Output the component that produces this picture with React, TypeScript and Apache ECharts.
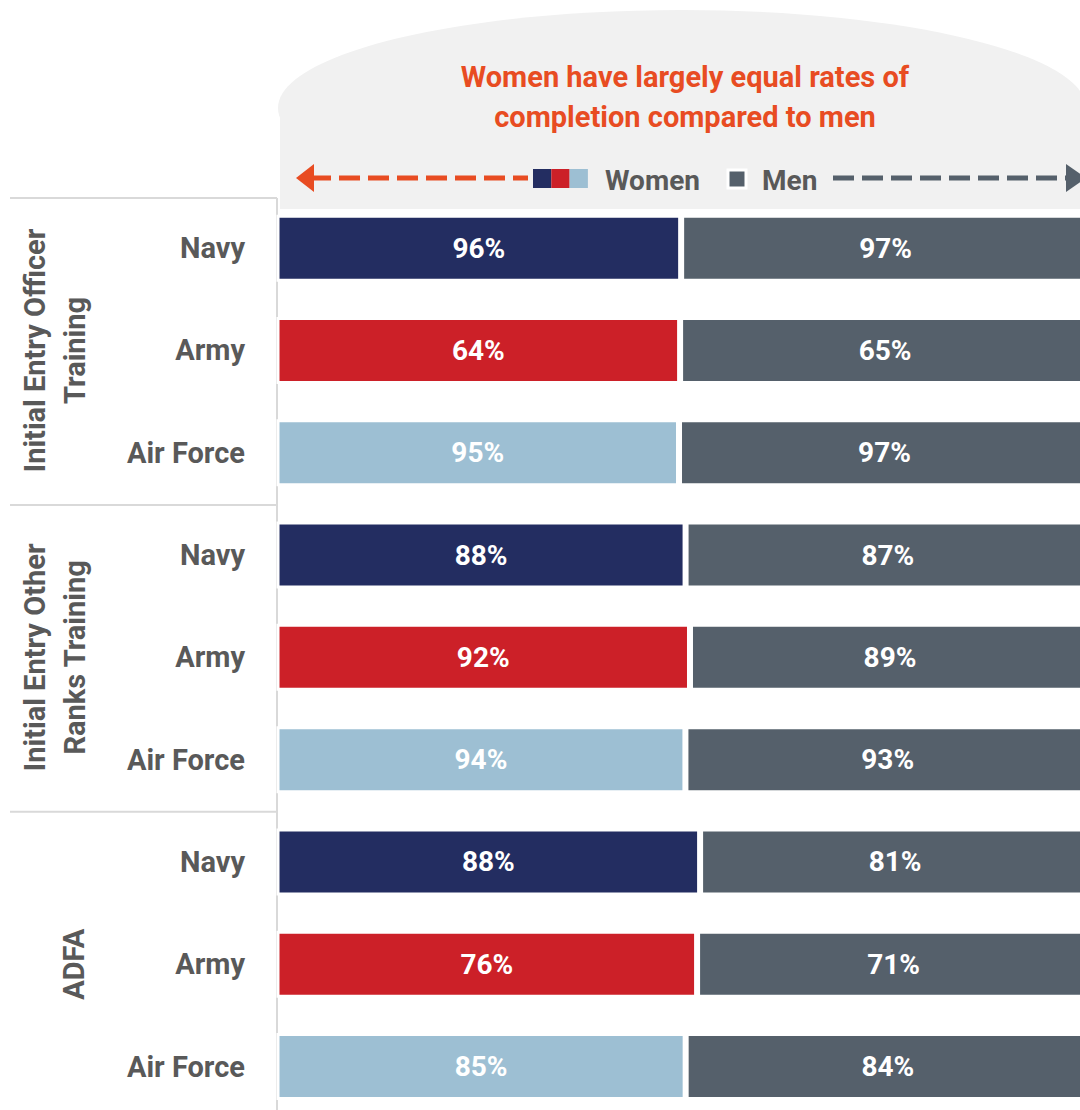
import { useEffect, useRef } from 'react';
import * as echarts from 'echarts';

const services = ['Navy', 'Army', 'Air Force'];
const groups = ['Initial Entry Officer\nTraining', 'Initial Entry Other\nRanks Training', 'ADFA'];
const womenValues = [96, 64, 95, 88, 92, 94, 88, 76, 85];
const menValues = [97, 65, 97, 87, 89, 93, 81, 71, 84];
const womenColors = ['#232d61', '#cc2028', '#9dbfd3'];
const menColor = '#55606b';
const titleLines = ['Women have largely equal rates of', 'completion compared to men'];
const legendNames = ['Women', 'Men'];

const FONT = "Roboto, 'DejaVu Sans Condensed', sans-serif";
const GRAY_TEXT = '#595959';
const LINE = '#d9d9d9';

export default function App() {
  const ref = useRef<HTMLDivElement>(null);
  useEffect(() => {
    if (!ref.current) return;
    const chart = echarts.init(ref.current, null, { renderer: 'svg' });

    const categories: string[] = [];
    groups.forEach((g, gi) => services.forEach((s) => categories.push(gi + '|' + s)));

    const womenData = womenValues.map((w, i) => ({
      value: (w / (w + menValues[i])) * 100,
      itemStyle: { color: womenColors[i % 3] },
    }));
    const menData = menValues.map((m, i) => (m / (m + womenValues[i])) * 100);

    const top = 197;
    const band = 102.3;
    const gridH = band * categories.length;

    const groupLabels = groups.map((g, gi) => {
      const cy = top + band * (gi * 3 + 1.5);
      const single = !g.includes('\n');
      return {
        type: 'text',
        x: single ? 74 : 55,
        y: cy,
        rotation: Math.PI / 2,
        style: {
          text: g,
          fill: GRAY_TEXT,
          font: `bold 29px ${FONT}`,
          textAlign: 'center',
          textVerticalAlign: 'middle',
          lineHeight: 40,
        },
      };
    });

    const sepLines = [0, 3, 6].map((r) => ({
      type: 'line',
      shape: { x1: 10, y1: top + 1 + band * r, x2: 277, y2: top + 1 + band * r },
      style: { stroke: LINE, lineWidth: 2 },
    }));

    const labelStyle = {
      color: '#ffffff',
      fontFamily: FONT,
      fontWeight: 'bold',
      fontSize: 28,
    };

    const option: any = {
      animation: false,
      backgroundColor: '#ffffff',
      grid: { left: 276.5, top, width: 813.5, height: gridH, outerBoundsMode: 'none', containLabel: false },
      xAxis: { type: 'value', min: 0, max: 100, show: false },
      yAxis: {
        type: 'category',
        inverse: true,
        data: categories,
        axisLine: { show: false },
        axisTick: { show: false },
        splitLine: { show: false },
        axisLabel: {
          formatter: (v: string) => v.split('|')[1],
          color: GRAY_TEXT,
          fontFamily: FONT,
          fontWeight: 'bold',
          fontSize: 29,
          margin: 31.5,
        },
      },
      series: [
        {
          name: legendNames[0],
          type: 'bar',
          stack: 'total',
          barWidth: 67,
          data: womenData,
          itemStyle: { borderColor: '#ffffff', borderWidth: 3 },
          label: {
            show: true,
            position: 'inside',
            formatter: (p: any) => womenValues[p.dataIndex] + '%',
            ...labelStyle,
          },
        },
        {
          name: legendNames[1],
          type: 'bar',
          stack: 'total',
          barWidth: 67,
          data: menData,
          itemStyle: { color: menColor, borderColor: '#ffffff', borderWidth: 3 },
          label: {
            show: true,
            position: 'inside',
            formatter: (p: any) => menValues[p.dataIndex] + '%',
            ...labelStyle,
          },
        },
      ],
      graphic: [
        // header panel
        { type: 'ellipse', shape: { cx: 682, cy: 108, rx: 404, ry: 98 }, style: { fill: '#f1f1f1' }, z: -1 },
        { type: 'rect', shape: { x: 280, y: 106, width: 810, height: 103 }, style: { fill: '#f1f1f1' }, z: -1 },
        {
          type: 'text',
          x: 685,
          y: 97,
          style: {
            text: titleLines.join('\n'),
            fill: '#e84c22',
            font: `bold 29px ${FONT}`,
            textAlign: 'center',
            textVerticalAlign: 'middle',
            lineHeight: 40,
          },
        },
        // left arrow
        {
          type: 'line',
          shape: { x1: 310, y1: 178, x2: 528, y2: 178 },
          style: { stroke: '#e84c22', lineWidth: 5, lineDash: [21, 8] },
        },
        { type: 'polygon', shape: { points: [[296, 178], [314, 164], [314, 192]] }, style: { fill: '#e84c22' } },
        // women squares
        ...womenColors.map((c, i) => ({
          type: 'rect',
          shape: { x: 533 + i * 18.3, y: 169, width: 18.3, height: 19 },
          style: { fill: c },
        })),
        {
          type: 'text',
          x: 605,
          y: 180,
          style: { text: legendNames[0], fill: GRAY_TEXT, font: `bold 28px ${FONT}`, textAlign: 'left', textVerticalAlign: 'middle' },
        },
        {
          type: 'rect',
          shape: { x: 728, y: 170, width: 18, height: 18 },
          style: { fill: menColor, stroke: '#ffffff', lineWidth: 3 },
        },
        {
          type: 'text',
          x: 762,
          y: 180,
          style: { text: legendNames[1], fill: GRAY_TEXT, font: `bold 28px ${FONT}`, textAlign: 'left', textVerticalAlign: 'middle' },
        },
        // right arrow
        {
          type: 'line',
          shape: { x1: 833, y1: 178, x2: 1066, y2: 178 },
          style: { stroke: menColor, lineWidth: 5, lineDash: [21, 8] },
        },
        { type: 'polygon', shape: { points: [[1066, 164], [1086, 178], [1066, 192]] }, style: { fill: menColor } },
        // separators
        ...sepLines,
        {
          type: 'line',
          shape: { x1: 277, y1: top + 1, x2: 277, y2: 1110 },
          style: { stroke: LINE, lineWidth: 2 },
        },
        ...groupLabels,
      ],
    };
    chart.setOption(option);
    return () => chart.dispose();
  }, []);
  return <div ref={ref} style={{ position: 'absolute', left: 0, top: 0, width: 1080, height: 1110 }} />;
}
